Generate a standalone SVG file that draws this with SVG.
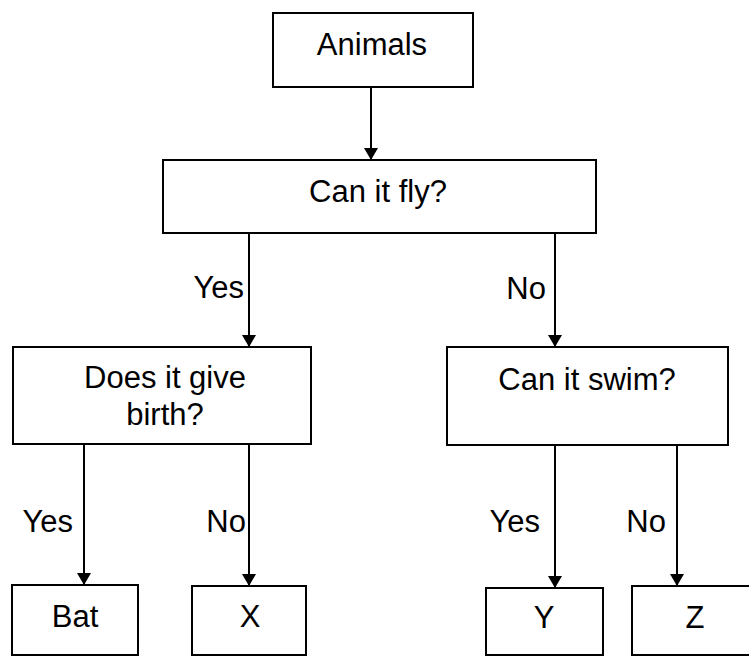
<svg xmlns="http://www.w3.org/2000/svg" width="749" height="657" viewBox="0 0 749 657">
<style>
.box{fill:#fff;stroke:#000;stroke-width:2}
.t{font-family:"Liberation Sans",Arial,sans-serif;font-size:31px;fill:#000;text-anchor:middle}
.lbl{font-family:"Liberation Sans",Arial,sans-serif;font-size:31px;fill:#000;text-anchor:end}
.c{stroke:#000;stroke-width:2;fill:none;marker-end:url(#ah)}
</style>
<defs>
<marker id="ah" viewBox="0 0 12 14" refX="12" refY="7" markerWidth="12" markerHeight="14" markerUnits="userSpaceOnUse" orient="auto">
<path d="M0,0 L12,7 L0,14 z" fill="#000"/>
</marker>
</defs>
<rect width="749" height="657" fill="#fff"/>
<g id="connectors">
<line class="c" x1="371" y1="87" x2="371" y2="160"/>
<line class="c" x1="249" y1="233" x2="249" y2="347"/>
<line class="c" x1="555" y1="233" x2="555" y2="347"/>
<line class="c" x1="84" y1="444" x2="84" y2="585"/>
<line class="c" x1="249" y1="444" x2="249" y2="586"/>
<line class="c" x1="555" y1="445" x2="555" y2="588"/>
<line class="c" x1="677" y1="445" x2="677" y2="586"/>
<text class="lbl" x="244" y="298">Yes</text>
<text class="lbl" x="546" y="299">No</text>
<text class="lbl" x="73" y="532">Yes</text>
<text class="lbl" x="246" y="532">No</text>
<text class="lbl" x="540" y="532">Yes</text>
<text class="lbl" x="666" y="532">No</text>
</g>
<g id="animals">
<rect class="box" x="273" y="13" width="200" height="74"/>
<text class="t" x="372" y="55">Animals</text>
</g>
<g id="fly">
<rect class="box" x="163" y="160" width="433" height="73"/>
<text class="t" x="378" y="202">Can it fly?</text>
</g>
<g id="birth">
<rect class="box" x="13" y="347" width="298" height="97"/>
<text class="t" x="165" y="388">Does it give</text>
<text class="t" x="165" y="425">birth?</text>
</g>
<g id="swim">
<rect class="box" x="447" y="347" width="281" height="98"/>
<text class="t" x="587" y="390">Can it swim?</text>
</g>
<g id="bat">
<rect class="box" x="12" y="585" width="126" height="70"/>
<text class="t" x="75" y="627">Bat</text>
</g>
<g id="x">
<rect class="box" x="192" y="586" width="114" height="69"/>
<text class="t" x="250" y="627">X</text>
</g>
<g id="y">
<rect class="box" x="486" y="588" width="117" height="67"/>
<text class="t" x="544" y="628">Y</text>
</g>
<g id="z">
<rect class="box" x="632" y="586" width="130" height="69"/>
<text class="t" x="695" y="628">Z</text>
</g>
</svg>
